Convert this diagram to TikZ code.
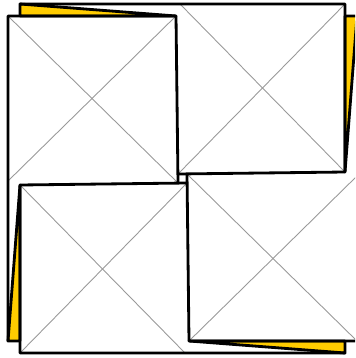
\documentclass[tikz,border=0pt]{standalone}
\usepackage{tikz}
\definecolor{Gold}{rgb}{1.0, 0.8, 0.0}
\definecolor{Crease}{rgb}{0.6, 0.6, 0.6}

\tikzset{
  fold edge/.style={draw=black, line width=1.6pt, line join=round},
  flap back/.style={fold edge, fill=Gold},
  crease/.style={draw=Crease, line width=0.5pt}
}

\begin{document}
\begin{tikzpicture}[x=0.02cm, y=-0.02cm]

  % Frame of the picture (pixel units, y pointing down)
  \useasboundingbox (0,0) rectangle (355,358);
  \clip (0,0) rectangle (355,358);

  % -------------------------------------------------------
  % White paper: the four squares and the fronts of the flaps
  % -------------------------------------------------------
  \fill[white] (180,4) -- (345,4) -- (345,172) -- (178,174) -- cycle;   % upper-right
  \fill[white] (357,176) -- (357,341) -- (189,341) -- (187,174) -- cycle; % lower-right
  \fill[white] (185,353) -- (20,353) -- (20,185) -- (187,183) -- cycle;   % lower-left
  \fill[white] (8,181) -- (8,16) -- (176,16) -- (178,183) -- cycle;      % upper-left
  \fill[white] (20,4) -- (180,4) -- (176,16) -- cycle;      % top flap
  \fill[white] (357,16) -- (357,176) -- (345,172) -- cycle; % right flap
  \fill[white] (345,353) -- (185,353) -- (189,341) -- cycle; % bottom flap
  \fill[white] (8,341) -- (8,181) -- (20,185) -- cycle;     % left flap

  % -------------------------------------------------------
  % Creases: both diagonals of every square
  % -------------------------------------------------------
  \draw[crease] (180,4) -- (345,172);
  \draw[crease] (345,4) -- (178,174);
  \draw[crease] (357,176) -- (189,341);
  \draw[crease] (357,341) -- (187,174);
  \draw[crease] (185,353) -- (20,185);
  \draw[crease] (20,353) -- (187,183);
  \draw[crease] (8,181) -- (176,16);
  \draw[crease] (8,16) -- (178,183);

  % -------------------------------------------------------
  % Yellow backs of the flaps
  % -------------------------------------------------------
  \draw[flap back] (20,4) -- (20,16) -- (176,16) -- cycle;      % top
  \draw[flap back] (357,16) -- (345,16) -- (345,172) -- cycle;  % right
  \draw[flap back] (345,353) -- (345,341) -- (189,341) -- cycle; % bottom
  \draw[flap back] (8,341) -- (20,341) -- (20,185) -- cycle;    % left

  % -------------------------------------------------------
  % Outer folds; the edge each square tucks under is left out
  % -------------------------------------------------------
  \draw[fold edge] (20,4) -- (345,4) -- (345,172) -- (178,174);     % upper-right
  \draw[fold edge] (357,16) -- (357,341) -- (189,341) -- (187,174); % lower-right
  \draw[fold edge] (345,353) -- (20,353) -- (20,185) -- (187,183);  % lower-left
  \draw[fold edge] (8,341) -- (8,16) -- (176,16) -- (178,183);      % upper-left

\end{tikzpicture}
\end{document}
